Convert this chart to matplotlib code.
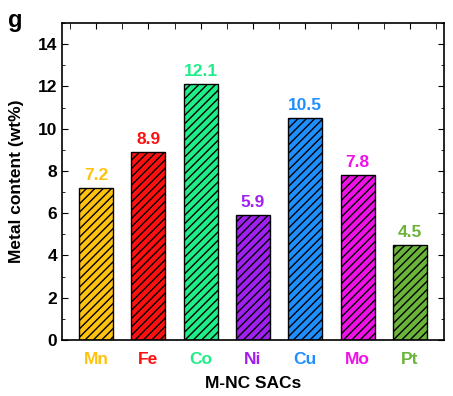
import matplotlib
matplotlib.use("Agg")
import matplotlib.pyplot as plt
from matplotlib.ticker import MultipleLocator

plt.rcParams['font.family'] = ['Liberation Sans', 'DejaVu Sans']
plt.rcParams['font.weight'] = 'bold'
plt.rcParams['hatch.linewidth'] = 1.0

metals = ['Mn', 'Fe', 'Co', 'Ni', 'Cu', 'Mo', 'Pt']
content = [7.2, 8.9, 12.1, 5.9, 10.5, 7.8, 4.5]
colors = ['#FFC20E', '#FF1010', '#1FEE88', '#A020F0', '#1E8FFF', '#F010E8', '#6AB43A']

fig = plt.figure(figsize=(4.53, 3.96), dpi=100)
ax = fig.add_axes([62/453, 1 - 340/396, (444-62)/453, (340-23)/396])

x = list(range(len(metals)))
ax.bar(x, content, width=0.65, color=colors, edgecolor='black', linewidth=1.0, hatch='////')

for xi, v, c in zip(x, content, colors):
    ax.text(xi, v + 0.25, f'{v}', ha='center', va='bottom', color=c, fontsize=12.5, fontweight='bold')

ax.set_xlim(-0.65, 6.65)
ax.set_ylim(0, 15)
ax.set_xticks(x)
ax.set_xticklabels(metals, fontsize=12.5, fontweight='bold')
for lbl, c in zip(ax.get_xticklabels(), colors):
    lbl.set_color(c)
ax.xaxis.set_minor_locator(MultipleLocator(0.5))
ax.yaxis.set_major_locator(MultipleLocator(2))
ax.yaxis.set_minor_locator(MultipleLocator(1))
ax.tick_params(axis='both', which='both', direction='in', top=True, right=True)
ax.tick_params(axis='x', which='both', bottom=False, pad=9)
ax.tick_params(axis='x', which='major', top=True, length=4)
ax.tick_params(axis='x', which='minor', top=True, length=4)
ax.tick_params(axis='y', which='major', length=4, labelsize=12.5)
ax.tick_params(axis='y', which='minor', length=2)
for s in ax.spines.values():
    s.set_linewidth(1.2)

ax.set_xlabel('M-NC SACs', fontsize=12.5, fontweight='bold', labelpad=6)
ax.set_ylabel('Metal content (wt%)', fontsize=12.5, fontweight='bold', labelpad=10)
fig.text(8/453, 1 - 20/396, 'g', fontsize=17, fontweight='bold', va='center')

fig.savefig('out.png', dpi=100)
